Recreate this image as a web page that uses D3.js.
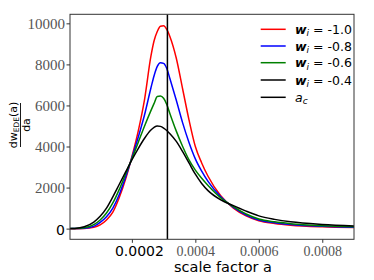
<!DOCTYPE html>
<html><head><meta charset="utf-8">
<script src="https://cdn.jsdelivr.net/npm/d3@7"></script>
<style>
html,body{margin:0;padding:0;background:#fff;}
svg{display:block;}
</style></head>
<body>
<svg id="chart" width="374" height="280"></svg>
<script>
// ---- data ----
const scaleFactor = [0.000005, 0.00002, 0.00005, 0.00008, 0.00010, 0.00012, 0.00014, 0.00016, 0.00018, 0.00020,
  0.00022, 0.00024, 0.00026, 0.00027, 0.00028, 0.00029, 0.00030, 0.00031, 0.00032,
  0.00034, 0.00036, 0.00038, 0.00040, 0.00042, 0.00044, 0.00048, 0.00052,
  0.00056, 0.00060, 0.00065, 0.00070, 0.00080, 0.00090];
const wRed   = [0, 0, 5, 60, 180, 420, 800, 1500, 2400, 3500, 4750, 6300, 8400, 9150, 9600, 9860, 9880, 9700, 9350, 8300, 6800, 5300, 4000, 3200, 2550, 1600, 1000, 620, 380, 250, 170, 90, 55];
const wBlue  = [0, 2, 20, 110, 300, 580, 1000, 1650, 2500, 3450, 4450, 5550, 6850, 7450, 7900, 8085, 8050, 7800, 7300, 6250, 5150, 4200, 3400, 2800, 2300, 1550, 1030, 660, 420, 290, 200, 110, 70];
const wGreen = [0, 4, 40, 190, 420, 760, 1250, 1900, 2650, 3400, 4200, 5000, 5750, 6100, 6440, 6460, 6350, 6050, 5600, 4750, 4000, 3350, 2850, 2450, 2100, 1500, 1070, 710, 470, 330, 240, 140, 90];
const wBlack = [0, 8, 90, 320, 600, 1000, 1550, 2150, 2750, 3350, 3900, 4400, 4800, 4930, 5000, 4980, 4900, 4780, 4620, 4250, 3750, 3200, 2650, 2200, 1850, 1400, 1120, 850, 620, 450, 330, 200, 130];
const wiValues = ["-1.0", "-0.8", "-0.6", "-0.4"];
const aCritical = 0.000312;
const yTicks = [0, 2000, 4000, 6000, 8000, 10000];
const yTickLabels = ["0", "2000", "4000", "6000", "8000", "10000"];
const xTicks = [0.0002, 0.0004, 0.0006, 0.0008];
const xTickLabels = ["0.0002", "0.0004", "0.0006", "0.0008"];
const seriesColors = ["#ff0000", "#0000ff", "#008000", "#000000"];

// ---- layout ----
const L = 70, R = 354, T = 14.3, B = 239.3;
const svg = d3.select("#chart");
const x = d3.scaleLinear().domain([0.000005, 0.0009]).range([L, R]);
const y = d3.scaleLinear().domain([-520, 10440]).range([B, T]);

const series = [wRed, wBlue, wGreen, wBlack];

svg.append("defs").append("clipPath").attr("id", "clip")
  .append("rect").attr("x", L).attr("y", T).attr("width", R - L).attr("height", B - T);

const line = d3.line()
  .x((d, i) => x(scaleFactor[i]))
  .y(d => y(d))
  .curve(d3.curveMonotoneX);

const plot = svg.append("g").attr("clip-path", "url(#clip)");
series.forEach((s, k) => {
  plot.append("path").datum(s)
    .attr("d", line)
    .attr("fill", "none")
    .attr("stroke", seriesColors[k])
    .attr("stroke-width", 1.5);
});
plot.append("line")
  .attr("x1", x(aCritical)).attr("x2", x(aCritical))
  .attr("y1", T).attr("y2", B)
  .attr("stroke", "#000").attr("stroke-width", 1.5);

// frame
svg.append("rect").attr("x", L).attr("y", T).attr("width", R - L).attr("height", B - T)
  .attr("fill", "none").attr("stroke", "#333").attr("stroke-width", 1);

// y axis
const yAxis = svg.append("g").attr("transform", `translate(${L},0)`)
  .call(d3.axisLeft(y).tickValues(yTicks).tickFormat((d, i) => yTickLabels[i]).tickSize(3.5).tickPadding(1.5));
yAxis.select(".domain").remove();
yAxis.selectAll(".tick line").attr("stroke", "#333");
yAxis.selectAll(".tick text")
  .attr("font-family", "'Liberation Serif', serif")
  .attr("font-size", 15)
  .attr("fill", "#555");
yAxis.selectAll(".tick text").filter(d => d === 0)
  .attr("font-family", "'DejaVu Sans', sans-serif")
  .attr("font-size", 14)
  .attr("fill", "#000")
  .attr("dy", "0.4em");

// x axis
const xAxis = svg.append("g").attr("transform", `translate(0,${B})`)
  .call(d3.axisBottom(x).tickValues(xTicks).tickFormat((d, i) => xTickLabels[i]).tickSize(3.5).tickPadding(3.5));
xAxis.select(".domain").remove();
xAxis.selectAll(".tick line").attr("stroke", "#333");
xAxis.selectAll(".tick text")
  .attr("font-family", "'Liberation Serif', serif")
  .attr("font-size", 14)
  .attr("fill", "#555");
xAxis.selectAll(".tick text").filter(d => d === xTicks[0])
  .attr("font-family", "'DejaVu Sans', sans-serif")
  .attr("font-size", 14)
  .attr("fill", "#000")
  .attr("dx", 7);

// x label
svg.append("text")
  .attr("x", 223).attr("y", 271.5)
  .attr("text-anchor", "middle")
  .attr("font-family", "'DejaVu Sans', sans-serif")
  .attr("font-size", 14.5)
  .attr("fill", "#000")
  .text("scale factor a");

// y label (fraction)
const yl = svg.append("g").attr("transform", "translate(20.5,125) rotate(-90)")
  .attr("font-family", "'DejaVu Sans', sans-serif").attr("fill", "#000");
const num = yl.append("text").attr("x", 0).attr("y", -3.5).attr("text-anchor", "middle").attr("font-size", 11);
num.append("tspan").text("dw");
num.append("tspan").attr("font-size", 7.5).attr("dy", 2).text("EDE");
num.append("tspan").attr("dy", -2).text("(a)");
yl.append("line").attr("x1", -22).attr("x2", 22).attr("y1", 0).attr("y2", 0)
  .attr("stroke", "#000").attr("stroke-width", 0.9);
yl.append("text").attr("x", 0).attr("y", 9.5).attr("text-anchor", "middle").attr("font-size", 11).text("da");

// legend
const legY = [29.3, 46, 62.7, 80, 97.3];
const leg = svg.append("g").attr("font-family", "'DejaVu Sans', sans-serif").attr("font-size", 12.5).attr("fill", "#000");
const legendColors = seriesColors.concat(["#000000"]);
legendColors.forEach((c, i) => {
  leg.append("line").attr("x1", 260.7).attr("x2", 285.7).attr("y1", legY[i]).attr("y2", legY[i])
    .attr("stroke", c).attr("stroke-width", 1.5);
  const t = leg.append("text").attr("x", 295).attr("y", legY[i] + 4.5);
  if (i < wiValues.length) {
    t.append("tspan").attr("font-style", "italic").attr("font-weight", "bold").text("w");
    t.append("tspan").attr("font-style", "italic").attr("font-size", 9).attr("dy", 2.5).text("i");
    t.append("tspan").attr("dy", -2.5).text(" = " + wiValues[i]);
  } else {
    t.append("tspan").attr("font-style", "italic").text("a");
    t.append("tspan").attr("font-style", "italic").attr("font-size", 9).attr("dy", 2.5).text("c");
  }
});
</script>
</body></html>
